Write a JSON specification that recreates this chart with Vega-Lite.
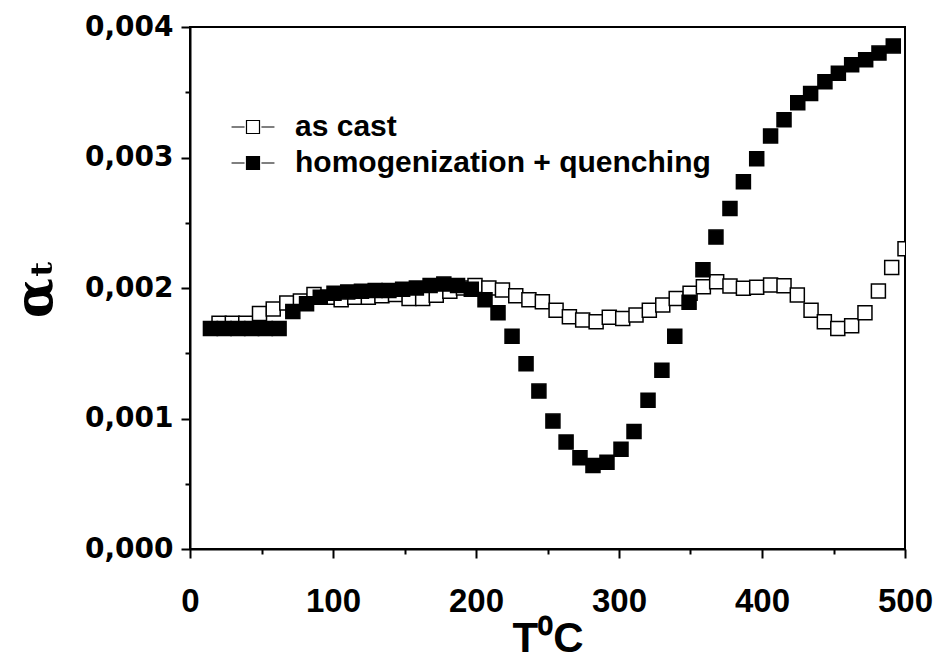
{
  "$schema": "https://vega.github.io/schema/vega-lite/v6.json",
  "width": 715,
  "height": 522,
  "autosize": {"type": "none"},
  "padding": {"left": 190, "top": 27, "right": 39, "bottom": 120},
  "background": "white",
  "config": {
    "view": {"stroke": "black", "strokeWidth": 2},
    "axis": {"grid": false, "domainColor": "black", "domainWidth": 2, "tickColor": "black", "tickWidth": 2, "labelColor": "black", "titleColor": "black"},
    "legend": {"symbolStrokeColor": "black"}
  },
  "data": {
    "values": [
      {"T": 20.3, "a": 0.00173, "series": "as cast"},
      {"T": 29.6, "a": 0.00173, "series": "as cast"},
      {"T": 39.0, "a": 0.00173, "series": "as cast"},
      {"T": 48.6, "a": 0.001805, "series": "as cast"},
      {"T": 58.2, "a": 0.00184, "series": "as cast"},
      {"T": 67.7, "a": 0.001885, "series": "as cast"},
      {"T": 77.2, "a": 0.0019, "series": "as cast"},
      {"T": 86.7, "a": 0.00195, "series": "as cast"},
      {"T": 96.2, "a": 0.00193, "series": "as cast"},
      {"T": 105.7, "a": 0.00191, "series": "as cast"},
      {"T": 115.2, "a": 0.00193, "series": "as cast"},
      {"T": 124.7, "a": 0.00193, "series": "as cast"},
      {"T": 134.2, "a": 0.00194, "series": "as cast"},
      {"T": 143.7, "a": 0.00195, "series": "as cast"},
      {"T": 153.2, "a": 0.00192, "series": "as cast"},
      {"T": 162.7, "a": 0.00192, "series": "as cast"},
      {"T": 172.2, "a": 0.001945, "series": "as cast"},
      {"T": 181.7, "a": 0.001975, "series": "as cast"},
      {"T": 191.2, "a": 0.002, "series": "as cast"},
      {"T": 199.3, "a": 0.00202, "series": "as cast"},
      {"T": 209.0, "a": 0.002, "series": "as cast"},
      {"T": 218.5, "a": 0.001985, "series": "as cast"},
      {"T": 227.8, "a": 0.00194, "series": "as cast"},
      {"T": 237.0, "a": 0.00191, "series": "as cast"},
      {"T": 246.4, "a": 0.001895, "series": "as cast"},
      {"T": 256.0, "a": 0.00183, "series": "as cast"},
      {"T": 265.3, "a": 0.00178, "series": "as cast"},
      {"T": 274.6, "a": 0.001755, "series": "as cast"},
      {"T": 284.0, "a": 0.001742, "series": "as cast"},
      {"T": 293.2, "a": 0.001775, "series": "as cast"},
      {"T": 302.6, "a": 0.001767, "series": "as cast"},
      {"T": 311.9, "a": 0.001793, "series": "as cast"},
      {"T": 321.2, "a": 0.00183, "series": "as cast"},
      {"T": 330.6, "a": 0.00187, "series": "as cast"},
      {"T": 340.0, "a": 0.00192, "series": "as cast"},
      {"T": 349.7, "a": 0.00196, "series": "as cast"},
      {"T": 359.0, "a": 0.00201, "series": "as cast"},
      {"T": 368.3, "a": 0.002048, "series": "as cast"},
      {"T": 377.6, "a": 0.002015, "series": "as cast"},
      {"T": 387.0, "a": 0.001998, "series": "as cast"},
      {"T": 396.3, "a": 0.002005, "series": "as cast"},
      {"T": 406.0, "a": 0.002023, "series": "as cast"},
      {"T": 415.4, "a": 0.002018, "series": "as cast"},
      {"T": 424.7, "a": 0.001946, "series": "as cast"},
      {"T": 434.3, "a": 0.00183, "series": "as cast"},
      {"T": 443.6, "a": 0.001742, "series": "as cast"},
      {"T": 453.0, "a": 0.00169, "series": "as cast"},
      {"T": 462.7, "a": 0.00171, "series": "as cast"},
      {"T": 472.0, "a": 0.00181, "series": "as cast"},
      {"T": 481.4, "a": 0.001977, "series": "as cast"},
      {"T": 490.7, "a": 0.002158, "series": "as cast"},
      {"T": 500.0, "a": 0.0023, "series": "as cast"},
      {"T": 14.3, "a": 0.00169, "series": "homogenization + quenching"},
      {"T": 23.9, "a": 0.00169, "series": "homogenization + quenching"},
      {"T": 33.5, "a": 0.00169, "series": "homogenization + quenching"},
      {"T": 43.1, "a": 0.00169, "series": "homogenization + quenching"},
      {"T": 52.7, "a": 0.00169, "series": "homogenization + quenching"},
      {"T": 62.3, "a": 0.00169, "series": "homogenization + quenching"},
      {"T": 71.9, "a": 0.00182, "series": "homogenization + quenching"},
      {"T": 81.5, "a": 0.00188, "series": "homogenization + quenching"},
      {"T": 91.1, "a": 0.00193, "series": "homogenization + quenching"},
      {"T": 100.7, "a": 0.00196, "series": "homogenization + quenching"},
      {"T": 110.3, "a": 0.00197, "series": "homogenization + quenching"},
      {"T": 119.9, "a": 0.001975, "series": "homogenization + quenching"},
      {"T": 129.5, "a": 0.00198, "series": "homogenization + quenching"},
      {"T": 139.1, "a": 0.00198, "series": "homogenization + quenching"},
      {"T": 148.7, "a": 0.00199, "series": "homogenization + quenching"},
      {"T": 158.3, "a": 0.002, "series": "homogenization + quenching"},
      {"T": 167.9, "a": 0.00202, "series": "homogenization + quenching"},
      {"T": 177.5, "a": 0.00203, "series": "homogenization + quenching"},
      {"T": 187.1, "a": 0.00202, "series": "homogenization + quenching"},
      {"T": 196.7, "a": 0.00199, "series": "homogenization + quenching"},
      {"T": 206.3, "a": 0.00191, "series": "homogenization + quenching"},
      {"T": 215.4, "a": 0.00181, "series": "homogenization + quenching"},
      {"T": 225.2, "a": 0.00163, "series": "homogenization + quenching"},
      {"T": 235.0, "a": 0.00142, "series": "homogenization + quenching"},
      {"T": 244.0, "a": 0.00121, "series": "homogenization + quenching"},
      {"T": 253.8, "a": 0.00098, "series": "homogenization + quenching"},
      {"T": 263.0, "a": 0.00082, "series": "homogenization + quenching"},
      {"T": 272.7, "a": 0.0007, "series": "homogenization + quenching"},
      {"T": 281.8, "a": 0.00064, "series": "homogenization + quenching"},
      {"T": 291.6, "a": 0.000665, "series": "homogenization + quenching"},
      {"T": 301.4, "a": 0.000765, "series": "homogenization + quenching"},
      {"T": 310.5, "a": 0.0009, "series": "homogenization + quenching"},
      {"T": 320.3, "a": 0.00114, "series": "homogenization + quenching"},
      {"T": 330.0, "a": 0.00137, "series": "homogenization + quenching"},
      {"T": 339.0, "a": 0.00163, "series": "homogenization + quenching"},
      {"T": 349.0, "a": 0.00189, "series": "homogenization + quenching"},
      {"T": 358.7, "a": 0.00214, "series": "homogenization + quenching"},
      {"T": 367.8, "a": 0.00239, "series": "homogenization + quenching"},
      {"T": 377.6, "a": 0.00261, "series": "homogenization + quenching"},
      {"T": 387.0, "a": 0.002815, "series": "homogenization + quenching"},
      {"T": 396.3, "a": 0.00299, "series": "homogenization + quenching"},
      {"T": 406.0, "a": 0.003165, "series": "homogenization + quenching"},
      {"T": 415.4, "a": 0.00329, "series": "homogenization + quenching"},
      {"T": 425.0, "a": 0.00342, "series": "homogenization + quenching"},
      {"T": 434.0, "a": 0.00349, "series": "homogenization + quenching"},
      {"T": 444.0, "a": 0.00358, "series": "homogenization + quenching"},
      {"T": 453.4, "a": 0.003645, "series": "homogenization + quenching"},
      {"T": 462.7, "a": 0.00371, "series": "homogenization + quenching"},
      {"T": 472.5, "a": 0.00375, "series": "homogenization + quenching"},
      {"T": 481.8, "a": 0.0038, "series": "homogenization + quenching"},
      {"T": 491.8, "a": 0.003855, "series": "homogenization + quenching"}
    ]
  },
  "mark": {"type": "point", "shape": "square", "filled": true, "size": 196, "stroke": "black", "strokeWidth": 1.5, "opacity": 1, "clip": true},
  "encoding": {
    "x": {
      "field": "T", "type": "quantitative",
      "scale": {"domain": [0, 500], "nice": false, "zero": false},
      "axis": {
        "values": [0, 50, 100, 150, 200, 250, 300, 350, 400, 450, 500],
        "labelExpr": "datum.value % 100 === 0 ? format(datum.value, 'd') : ''",
        "tickSize": {"condition": {"test": "datum.value % 100 === 0", "value": 9}, "value": 5},
        "labelFont": "Liberation Sans",
        "labelFontWeight": "bold", "labelFontSize": 33, "labelPadding": 27,
        "labelFlush": false, "labelOverlap": false,
        "title": "T⁰C", "titleFont": "Liberation Sans",
        "titleFontWeight": "bold", "titleFontSize": 42, "titlePadding": 0
      }
    },
    "y": {
      "field": "a", "type": "quantitative",
      "scale": {"domain": [0, 0.004], "nice": false, "zero": false},
      "axis": {
        "values": [0, 0.0005, 0.001, 0.0015, 0.002, 0.0025, 0.003, 0.0035, 0.004],
        "labelExpr": "abs(datum.value * 1000 - round(datum.value * 1000)) < 0.000001 ? replace(format(datum.value, '.3f'), '.', ',') : ''",
        "tickSize": {"condition": {"test": "abs(datum.value * 1000 - round(datum.value * 1000)) < 0.000001", "value": 9}, "value": 5},
        "labelFont": "DejaVu Sans", "labelFontWeight": "bold", "labelFontSize": 28, "labelPadding": 8,
        "labelFlush": false, "labelOverlap": false,
        "title": "αₜ", "titleFont": "DejaVu Serif", "titleFontWeight": "bold", "titleFontSize": 52, "titlePadding": 22
      }
    },
    "fill": {
      "field": "series", "type": "nominal",
      "scale": {"domain": ["as cast", "homogenization + quenching"], "range": ["white", "black"]},
      "legend": {
        "title": null, "orient": "none", "legendX": 48, "legendY": 85,
        "symbolType": "M-3.3,0H-1.3M1.3,0H3.3M-1,-1H1V1H-1Z",
        "symbolSize": 169, "symbolStrokeWidth": 1.2, "symbolStrokeColor": "black",
        "labelFont": "Liberation Sans", "labelFontWeight": "bold", "labelFontSize": 30,
        "labelOffset": 27, "rowPadding": 6, "padding": 0, "labelLimit": 600
      }
    },
    "order": {"field": "series", "sort": "ascending"}
  }
}
